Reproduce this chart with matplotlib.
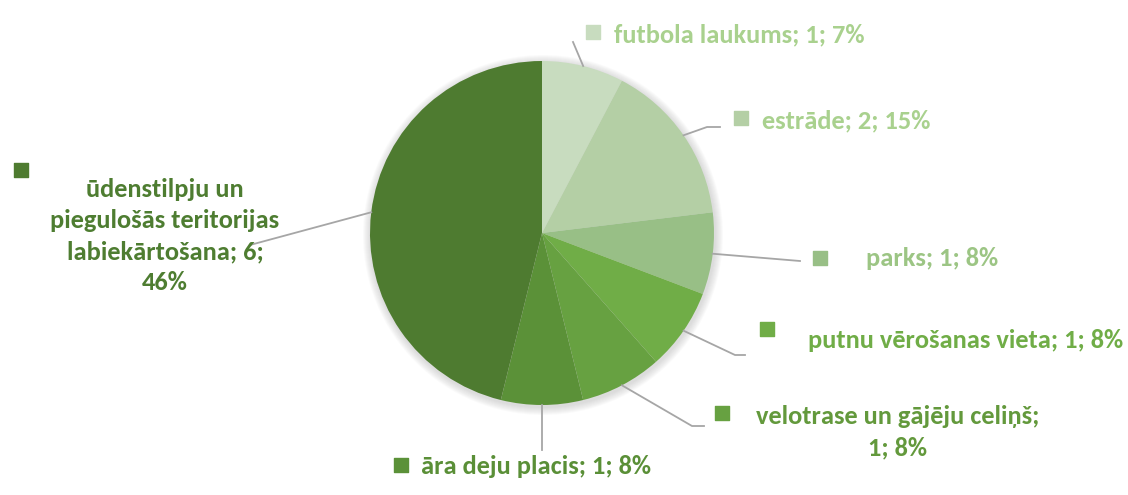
import numpy as np
import matplotlib.pyplot as plt

# --- dati ---
categories = ['futbola laukums', 'estrāde', 'parks', 'putnu vērošanas vieta',
              'velotrase un gājēju celiņš', 'āra deju placis',
              'ūdenstilpju un piegulošās teritorijas labiekārtošana']
values = [1, 2, 1, 1, 1, 1, 6]
percents = ['7%', '15%', '8%', '8%', '8%', '8%', '46%']

slice_colors = ['#c8dcbf', '#b4cfa5', '#98bf86', '#70ad47',
                '#67a141', '#5b9138', '#4e7b30']
text_colors = ['#a9d18e', '#a9d18e', '#9cc584', '#70ad47',
               '#63993c', '#5a8f37', '#4e7d31']

# rindu pārnesumi kā oriģinālā
wrap_after = {4: [27], 6: [14, 37, 56]}

W, H = 1128, 495
plt.rcParams['font.family'] = ['Carlito', 'Lato', 'DejaVu Sans']

fig = plt.figure(figsize=(W / 100, H / 100), dpi=100)
ax = fig.add_axes([0, 0, 1, 1])

cx, cy, r = 542, H - 233, 172

# mīksta ēna aiz diagrammas
for k in range(1, 9):
    ax.add_patch(plt.Circle((cx + 1, cy - 2), r + k, color='#808080',
                            alpha=0.035, lw=0, zorder=0))

wedges, _ = ax.pie(values, colors=slice_colors, startangle=90,
                   counterclock=False, center=(cx, cy), radius=r,
                   wedgeprops=dict(linewidth=0))

# etiķešu izvietojums (pikseļos no augšas)
marker_pos = [(593, 32), (741, 118), (820, 258), (767, 329),
              (722, 413), (401, 465), (21, 170)]
text_pos = [(614, 35), (762, 121), (866, 259), (808, 341),
            (898, 432), (421, 467), (165, 236)]
text_ha = ['left', 'left', 'left', 'left', 'center', 'left', 'center']
leader_pts = [[(573, 42)],
              [(707, 127), (720, 127)],
              [(800, 261)],
              [(735, 355), (745, 355)],
              [(692, 426), (704, 426)],
              [(542, 450)],
              [(250, 245)]]

for i, w in enumerate(wedges):
    label = f'{categories[i]}; {values[i]}; {percents[i]}'
    if i in wrap_after:
        parts, prev = [], 0
        for cut in wrap_after[i]:
            parts.append(label[prev:cut].strip())
            prev = cut
        parts.append(label[prev:].strip())
        label = '\n'.join(parts)

    # līnija no sektora malas
    mid = np.deg2rad((w.theta1 + w.theta2) / 2)
    xs = [cx + r * np.cos(mid)] + [p[0] for p in leader_pts[i]]
    ys = [cy + r * np.sin(mid)] + [H - p[1] for p in leader_pts[i]]
    ax.plot(xs, ys, color='#a6a6a6', lw=1.3, zorder=1)

    mx, my = marker_pos[i]
    ax.scatter([mx], [H - my], marker='s', s=95, color=slice_colors[i],
               zorder=3)
    tx, ty = text_pos[i]
    ax.text(tx, H - ty, label, ha=text_ha[i], va='center', fontsize=19,
            fontweight='bold', color=text_colors[i], linespacing=1.42,
            zorder=3)

ax.set_xlim(0, W)
ax.set_ylim(0, H)
ax.set_aspect('equal')
ax.axis('off')

plt.savefig('out.png', dpi=100)
